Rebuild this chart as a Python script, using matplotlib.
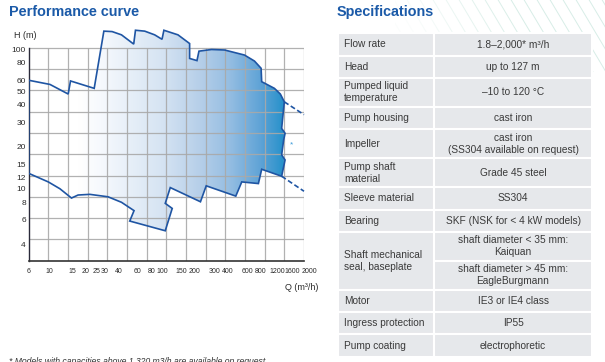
import numpy as np
import matplotlib.pyplot as plt
from matplotlib.patches import Polygon, Rectangle
from matplotlib.colors import LinearSegmentedColormap
from matplotlib.ticker import NullLocator

plt.rcParams['font.family'] = ['Liberation Sans', 'DejaVu Sans']

# performance envelope, clockwise from top-left (Q in m3/h, H in m)
env_q = [6, 9.4, 13.8, 14.5, 23.9, 29.3, 34.9, 42.5, 55, 57.1, 69.4, 85.6, 100, 104,
         140, 179, 179, 209, 218, 284, 374, 569, 703, 809, 819, 1071, 1214, 1320,
         1248, 1341, 1302, 1248, 1341, 1248,
         819, 764, 538, 474, 254, 225, 119, 107, 124, 107, 50.6, 55.4, 42.5, 32,
         21.8, 17, 14.8, 11.6, 9.07, 6]
env_h = [60, 56, 47.8, 59.3, 52.5, 135, 134, 127, 109, 137, 135, 127, 118, 137,
         127, 110, 86, 83, 97, 99.7, 98.9, 91, 82.4, 73.1, 58.6, 52.5, 47.8, 42,
         27.1, 25, 22.4, 17.5, 16.1, 12.3,
         13.8, 10.9, 11.2, 8.86, 10.5, 8.07, 10.2, 7.86, 7.23, 5.0, 5.87, 6.97, 8.0, 8.76,
         9.12, 9.02, 8.58, 10.0, 11.2, 12.9]
ext_top_q = [1320, 2000]
ext_top_h = [42, 34]
ext_bot_q = [1248, 2000]
ext_bot_h = [12.3, 9.6]
note_q, note_h = 1540, 20.6

x_ticks = [6, 10, 15, 20, 25, 30, 40, 60, 80, 100, 150, 200, 300, 400, 600, 800, 1200, 1600, 2000]
y_ticks = [4, 6, 8, 10, 12, 15, 20, 30, 40, 50, 60, 80, 100]

spec_names = ["Flow rate", "Head", "Pumped liquid\ntemperature", "Pump housing", "Impeller",
              "Pump shaft\nmaterial", "Sleeve material", "Bearing",
              "Shaft mechanical\nseal, baseplate", "Motor", "Ingress protection", "Pump coating"]
spec_values = [["1.8–2,000* m³/h"], ["up to 127 m"], ["–10 to 120 °C"], ["cast iron"],
               ["cast iron\n(SS304 available on request)"], ["Grade 45 steel"], ["SS304"],
               ["SKF (NSK for < 4 kW models)"],
               ["shaft diameter < 35 mm:\nKaiquan", "shaft diameter > 45 mm:\nEagleBurgmann"],
               ["IE3 or IE4 class"], ["IP55"], ["electrophoretic"]]

W, H = 605, 362
blue_title = '#1b5aa8'
txt = '#3a3a3a'
fig = plt.figure(figsize=(W / 100, H / 100), dpi=100)

bg = fig.add_axes([0, 0, 1, 1])
bg.set_xlim(0, W)
bg.set_ylim(H, 0)
bg.axis('off')

# faint diagonal stripes behind the specifications header
clip = Rectangle((395, 0), 210, 72, transform=bg.transData)
for xs in np.arange(380, 680, 13):
    a = min(0.9, max(0.1, (xs - 380) / 140))
    ln, = bg.plot([xs, xs + 44], [-2, 72], color='#d3ebe4', lw=0.7, alpha=a, zorder=0)
    ln.set_clip_path(clip)

# ---- performance curve ----
ytop_grid = 102.7
ax = fig.add_axes([28.7 / W, (H - 260.7) / H, 275.3 / W, 235.7 / H])
ax.set_xscale('log')
ax.set_yscale('log')
ax.patch.set_alpha(0)

cmap = LinearSegmentedColormap.from_list('env', [
    (0.0, '#ffffff'), (0.18, '#ffffff'), (0.26, '#f6f9fd'), (0.48, '#d6e4f3'),
    (0.62, '#b6cfe9'), (0.73, '#94bde2'), (0.84, '#5fa3d6'), (0.93, '#2290ca'),
    (1.0, '#1486c6')])
im = ax.imshow(np.linspace(0, 1, 256)[None, :], extent=[0, 1, 0, 1], transform=ax.transAxes,
               aspect='auto', cmap=cmap, zorder=1)
env = Polygon(np.column_stack([env_q, env_h]), closed=True, facecolor='none',
              edgecolor='#1f55a3', lw=1.2, joinstyle='miter', zorder=4)
ax.add_patch(env)
im.set_clip_path(env)

ax.set_xlim(6, 2000)
ax.set_ylim(3.05, 149.4)

ax.vlines(np.geomspace(6, 2000, 15)[1:], 3.05, ytop_grid, color='#a9a9a9', lw=0.9, alpha=0.9, zorder=2)
ax.hlines(np.geomspace(3.05, ytop_grid, 11)[1:], 6, 2000, color='#a9a9a9', lw=0.9, alpha=0.9, zorder=2)

ax.plot(ext_top_q, ext_top_h, color='#1f55a3', lw=1.2, ls=(0, (3, 1.6)), zorder=4, clip_on=False)
ax.plot(ext_bot_q, ext_bot_h, color='#1f55a3', lw=1.2, ls=(0, (3, 1.6)), zorder=4, clip_on=False)
ax.text(note_q, note_h, '*', color='#3a9ad9', fontsize=6, ha='center', va='center', zorder=5)

for s in ['top', 'right']:
    ax.spines[s].set_visible(False)
ax.spines['left'].set_bounds(3.05, ytop_grid)
ax.spines['left'].set_color('#2a2a3a')
ax.spines['bottom'].set_color('#333333')
ax.spines['left'].set_linewidth(1.0)
ax.spines['bottom'].set_linewidth(1.2)

# x labels drawn by hand so the crowded ones at the ends can be nudged apart like the original
ax.set_xticks([])
ax.xaxis.set_minor_locator(NullLocator())
nudge_px = {10: -4, 1200: -3, 1600: -1, 2000: 5}
for v in x_ticks:
    ax.annotate(str(v), (v, 0), xycoords=('data', 'axes fraction'),
                xytext=(nudge_px.get(v, 0) * 0.72, -8), textcoords='offset points',
                ha='center', va='center', fontsize=5.0, color='#2a2a2a')

ax.set_yticks(y_ticks, labels=[str(v) for v in y_ticks])
ax.yaxis.set_minor_locator(NullLocator())
ax.tick_params(axis='y', length=0, labelsize=6, pad=2, labelcolor='#2a2a2a')

fig.text(14 / W, 1 - 35 / H, 'H (m)', fontsize=6.5, color='#2a2a2a', va='center')
fig.text(318 / W, 1 - 287 / H, 'Q (m³/h)', fontsize=6.5, color='#2a2a2a', va='center', ha='right')

fig.text(9 / W, 1 - 12 / H, 'Performance curve', fontsize=10.4, fontweight='bold', color=blue_title,
         va='center')
fig.text(337 / W, 1 - 12 / H, 'Specifications', fontsize=10.4, fontweight='bold', color=blue_title,
         va='center')
fig.text(9 / W, 1 - 364 / H, '* Models with capacities above 1,320 m3/h are available on request.',
         fontsize=6.2, style='italic', color='#333333', va='baseline')

# ---- specifications table ----
x0, x1, x2 = 338.3, 434.3, 591.7
h1, h2 = 22.3, 29.0
cell_bg = '#e6e8eb'


def cell_h(s):
    return h2 if '\n' in s else h1


y = 33.3
for name, vals in zip(spec_names, spec_values):
    sub = [cell_h(v) for v in vals]
    row_h = max(cell_h(name), sum(sub))
    bg.add_patch(Rectangle((x0, y), x1 - x0, row_h, facecolor=cell_bg, edgecolor='white', lw=1.5, zorder=2))
    bg.text(x0 + 6, y + row_h / 2, name, fontsize=7.3, color=txt, va='center', ha='left',
            linespacing=1.25, zorder=3)
    if len(vals) == 1:
        sub = [row_h]
    yy = y
    for v, sh in zip(vals, sub):
        bg.add_patch(Rectangle((x1, yy), x2 - x1, sh, facecolor=cell_bg, edgecolor='white', lw=1.5, zorder=2))
        bg.text((x1 + x2) / 2, yy + sh / 2, v, fontsize=7.3, color=txt, va='center', ha='center',
                linespacing=1.25, zorder=3)
        yy += sh
    y += row_h

fig.savefig('out.png', dpi=100)
